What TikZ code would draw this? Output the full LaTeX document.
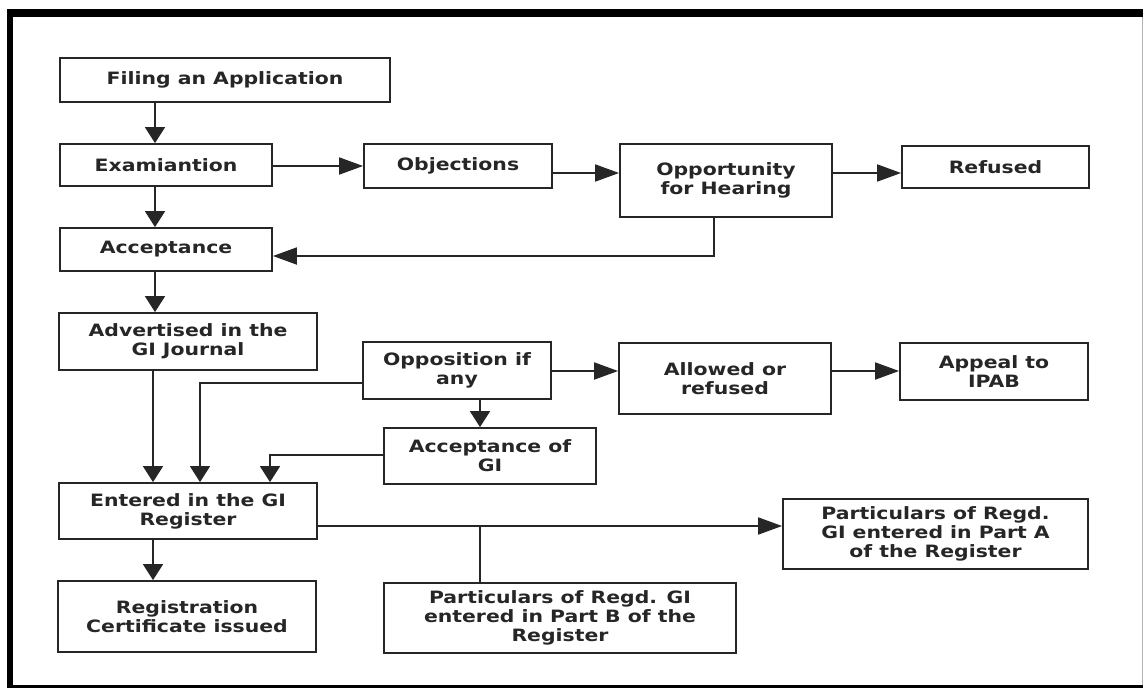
\documentclass[tikz,border=0pt]{standalone}
\usepackage{fontspec}
\setmainfont{DejaVu Sans}[FakeStretch=1.2]
\usetikzlibrary{arrows.meta}
\begin{document}
\begin{tikzpicture}[x=1pt,y=-1pt,
  box/.style={draw=black!85, line width=1.8pt, fill=white, align=center, inner sep=2pt,
    text=black!85, font=\bfseries\fontsize{17}{19}\selectfont},
  conn/.style={draw=black!85, line width=1.8pt},
  varr/.style={conn, -{Triangle[length=16pt,width=20pt]}},
  harr/.style={conn, -{Triangle[length=24pt,width=17pt]}}]
\useasboundingbox (0,0) rectangle (1143,688);
\fill[white] (0,0) rectangle (1143,688);
% frame
\fill[black] (7,9) rectangle (1143,17);
\fill[black] (7,9) rectangle (13,688);
\fill[black] (7,685) rectangle (1143,688);
\draw[black!30, line width=1pt] (1142,17) -- (1142,685);
% nodes
\node[box, minimum width=330pt, minimum height=44pt] (fil) at (225,80) {Filing an Application};
\node[box, minimum width=212pt, minimum height=42pt] (exa) at (166,165) {Examiantion};
\node[box, minimum width=188pt, minimum height=44pt] (obj) at (458,166) {Objections};
\node[box, minimum width=212pt, minimum height=73pt] (opp) at (726,180.5) {Opportunity\\for Hearing};
\node[box, minimum width=187pt, minimum height=42pt] (ref) at (995.5,167) {Refused};
\node[box, minimum width=212pt, minimum height=43pt] (acc) at (166,249.5) {Acceptance};
\node[box, minimum width=258pt, minimum height=57pt] (adv) at (188,341.5) {Advertised in the\\GI Journal};
\node[box, minimum width=188pt, minimum height=57pt] (ops) at (457,370.5) {Opposition if\\any};
\node[box, minimum width=212pt, minimum height=71pt] (alw) at (725,378.5) {Allowed or\\refused};
\node[box, minimum width=188pt, minimum height=57pt] (app) at (994,371.5) {Appeal to\\IPAB};
\node[box, minimum width=212pt, minimum height=56pt] (agi) at (490,456) {Acceptance of\\GI};
\node[box, minimum width=258pt, minimum height=56pt] (ent) at (188,511) {Entered in the GI\\Register};
\node[box, minimum width=258pt, minimum height=71pt] (reg) at (187,616.5) {Registration\\Certificate issued};
\node[box, minimum width=352pt, minimum height=70pt] (ptb) at (560,618) {Particulars of Regd. GI\\entered in Part B of the\\Register};
\node[box, minimum width=305pt, minimum height=70pt] (pta) at (935.5,534) {Particulars of Regd.\\GI entered in Part A\\of the Register};
% lanes
\coordinate (xL) at (155,0);
\coordinate (xE) at (153,0);
\coordinate (xO) at (200,0);
\coordinate (xG) at (270,0);
\coordinate (xM) at (480,0);
\coordinate (xH) at (714,0);
\coordinate (yA) at (0,166);
\coordinate (yB) at (0,173);
\coordinate (yC) at (0,256);
\coordinate (yD) at (0,383);
\coordinate (yE) at (0,455);
\coordinate (yF) at (0,371);
\coordinate (yG) at (0,526);
\coordinate (br) at (480,526);
% connectors
\draw[varr] (fil.south -| xL) -- (exa.north -| xL);
\draw[varr] (exa.south -| xL) -- (acc.north -| xL);
\draw[harr] (exa.east |- yA) -- (obj.west |- yA);
\draw[harr] (obj.east |- yB) -- (opp.west |- yB);
\draw[harr] (opp.east |- yB) -- (ref.west |- yB);
\draw[harr] (opp.south -| xH) |- (acc.east |- yC);
\draw[varr] (acc.south -| xL) -- (adv.north -| xL);
\draw[varr] (adv.south -| xE) -- (ent.north -| xE);
\draw[varr] (ops.west |- yD) -| (ent.north -| xO);
\draw[varr] (agi.west |- yE) -| (ent.north -| xG);
\draw[varr] (ops.south -| xM) -- (agi.north -| xM);
\draw[harr] (ops.east |- yF) -- (alw.west |- yF);
\draw[harr] (alw.east |- yF) -- (app.west |- yF);
\draw[harr] (ent.east |- yG) -- (pta.west |- yG);
\draw[conn] (br) -- (ptb.north -| br);
\draw[varr] (ent.south -| xE) -- (reg.north -| xE);
\end{tikzpicture}
\end{document}
